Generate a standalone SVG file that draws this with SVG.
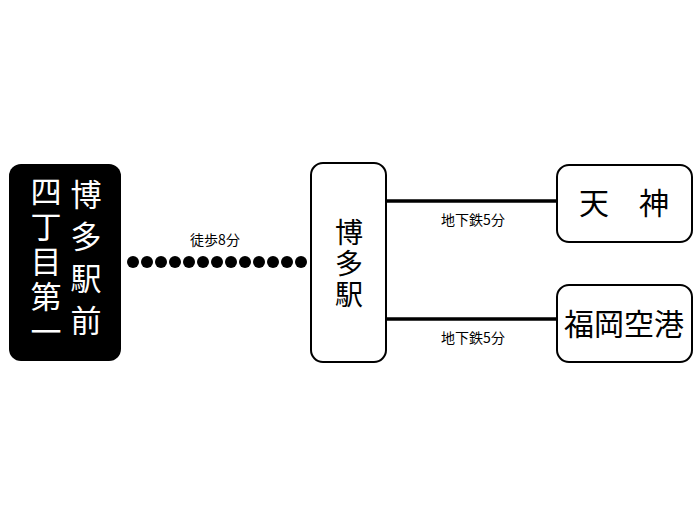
<svg xmlns="http://www.w3.org/2000/svg" width="700" height="525" viewBox="0 0 700 525">
<style>
text{font-family:"Noto Sans CJK JP","Liberation Sans",sans-serif;text-anchor:middle}
.box{fill:#fff;stroke:#000;stroke-width:2}
.big{font-size:30px}
.mid{font-size:28px}
.lbl{font-size:14px}
.ln{stroke:#000;stroke-width:3.5}
</style>
<rect width="700" height="525" fill="#fff"/>
<g id="connectors">
<g fill="#000">
<circle cx="133" cy="262" r="6"/><circle cx="147" cy="262" r="6"/><circle cx="161" cy="262" r="6"/><circle cx="175" cy="262" r="6"/><circle cx="189" cy="262" r="6"/><circle cx="203" cy="262" r="6"/><circle cx="217" cy="262" r="6"/><circle cx="231" cy="262" r="6"/><circle cx="245" cy="262" r="6"/><circle cx="259" cy="262" r="6"/><circle cx="273" cy="262" r="6"/><circle cx="287" cy="262" r="6"/><circle cx="301" cy="262" r="6"/>
</g>
<text class="lbl" x="215" y="245">徒歩8分</text>
<line class="ln" x1="386" y1="201" x2="557" y2="201"/>
<text class="lbl" x="473" y="225">地下鉄5分</text>
<line class="ln" x1="386" y1="319" x2="557" y2="319"/>
<text class="lbl" x="473" y="343">地下鉄5分</text>
</g>
<g id="n-yontyome">
<rect x="9" y="164" width="112" height="197" rx="12" fill="#000"/>
<g fill="#fff" font-size="31">
<text x="46" y="203">四</text><text x="46" y="238">丁</text><text x="46" y="273">目</text><text x="46" y="308">第</text><text x="46" y="343">一</text>
<text x="86" y="206">博</text><text x="86" y="248">多</text><text x="86" y="290">駅</text><text x="86" y="332">前</text>
</g>
</g>
<g id="n-hakata">
<rect class="box" x="311" y="163" width="75" height="199" rx="12"/>
<text class="mid" x="349" y="243">博</text><text class="mid" x="349" y="274">多</text><text class="mid" x="349" y="305">駅</text>
</g>
<g id="n-tenjin">
<rect class="box" x="557" y="165" width="135" height="77" rx="12"/>
<text class="big" x="624" y="214" xml:space="preserve">天　神</text>
</g>
<g id="n-airport">
<rect class="box" x="557" y="285" width="135" height="77" rx="12"/>
<text class="big" x="624" y="335">福岡空港</text>
</g>
</svg>
